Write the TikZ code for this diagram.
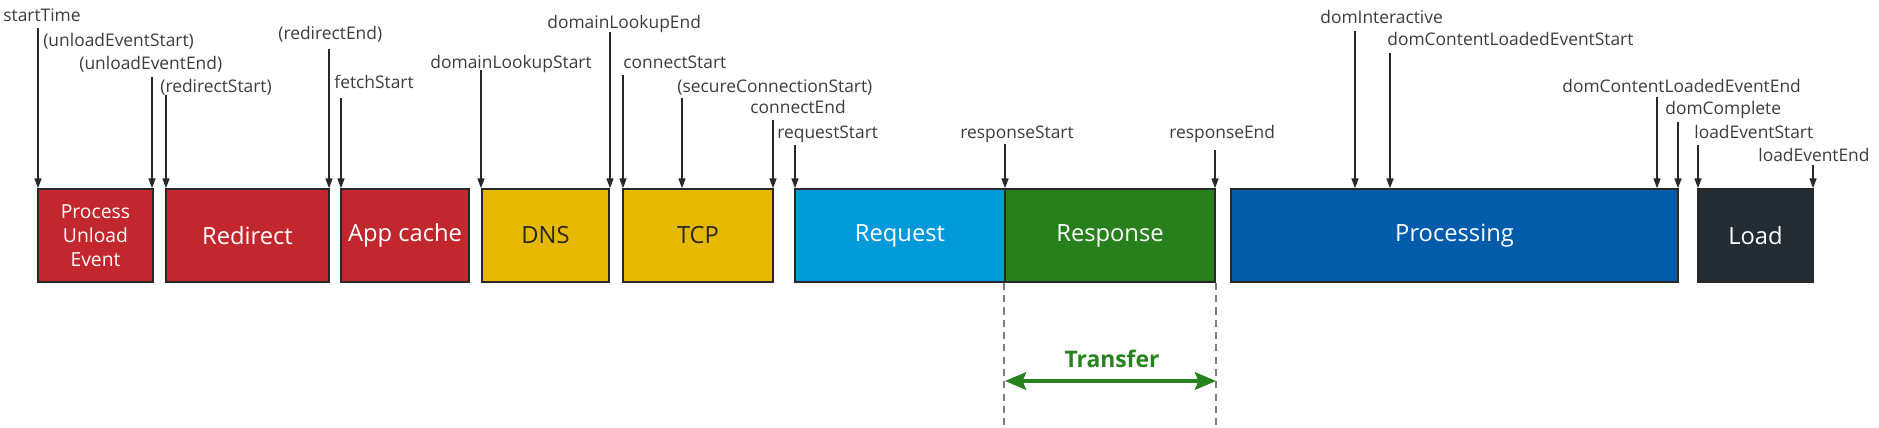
\documentclass[tikz,border=0pt]{standalone}
\usepackage{fontspec}
\setmainfont{Open Sans}
\usetikzlibrary{arrows.meta, positioning}

\definecolor{redbox}{RGB}{193,39,45}
\definecolor{yellowbox}{RGB}{230,184,0}
\definecolor{reqblue}{RGB}{0,153,218}
\definecolor{respgreen}{RGB}{40,128,28}
\definecolor{procblue}{RGB}{0,91,170}
\definecolor{loaddark}{RGB}{35,45,51}
\definecolor{labelgray}{RGB}{60,60,60}
\definecolor{edgegray}{RGB}{40,40,40}
\definecolor{dashgray}{RGB}{125,125,125}
\definecolor{transgreen}{RGB}{40,130,30}

\tikzset{
  box/.style={draw=edgegray, line width=1pt, minimum height=1.86cm, inner sep=0pt,
              text=white, font=\fontsize{13.5}{16}\selectfont},
  evlabel/.style={anchor=base west, inner sep=0pt, text=labelgray,
                  font=\fontsize{9.9}{11}\selectfont},
  ptr/.style={draw=edgegray, line width=0.7pt, -{Triangle[length=5.5pt, width=4pt]}},
  guide/.style={draw=dashgray, line width=0.8pt, dash pattern=on 4pt off 3pt},
}

\begin{document}
\begin{tikzpicture}[x=0.02cm, y=-0.02cm]
  \useasboundingbox (0,0) rectangle (1879,427);

  % phases
  \node[box, fill=redbox, minimum width=2.30cm, align=center,
        font=\fontsize{11}{13.6}\selectfont] (unload) at (95.5,235.5) {Process\\Unload\\Event};
  \node[box, fill=redbox, minimum width=3.26cm] (redirect) at (247.5,235.5) {Redirect};
  \node[box, fill=redbox, minimum width=2.56cm] (appcache) at (405,235.5) {App cache};
  \node[box, fill=yellowbox, minimum width=2.54cm, text=edgegray] (dns) at (545.5,235.5) {DNS};
  \node[box, fill=yellowbox, minimum width=3.00cm, text=edgegray] (tcp) at (698,235.5) {TCP};
  \node[box, fill=reqblue, minimum width=4.20cm] (request) at (900,235.5) {Request};
  \node[box, fill=respgreen, minimum width=4.20cm] (response) at (1110,235.5) {Response};
  \node[box, fill=procblue, minimum width=8.94cm] (processing) at (1454.5,235.5) {Processing};
  \node[box, fill=loaddark, minimum width=2.30cm] (load) at (1755.5,235.5) {Load};

  % timing marks
  \node[evlabel] (startTime) at (3,21) {startTime};
  \node[evlabel] (unloadEventStart) at (43,46) {(unloadEventStart)};
  \coordinate (startTime-p) at (38,28);
  \draw[ptr] (startTime-p) -- (startTime-p |- unload.north);

  \node[evlabel] (unloadEventEnd) at (79,69) {(unloadEventEnd)};
  \coordinate (unloadEventEnd-p) at (152,77);
  \draw[ptr] (unloadEventEnd-p) -- (unloadEventEnd-p |- unload.north);

  \node[evlabel] (redirectStart) at (160,92) {(redirectStart)};
  \coordinate (redirectStart-p) at (166,95);
  \draw[ptr] (redirectStart-p) -- (redirectStart-p |- redirect.north);

  \node[evlabel] (redirectEnd) at (278,39) {(redirectEnd)};
  \coordinate (redirectEnd-p) at (329,49);
  \draw[ptr] (redirectEnd-p) -- (redirectEnd-p |- redirect.north);

  \node[evlabel] (fetchStart) at (334,88) {fetchStart};
  \coordinate (fetchStart-p) at (341,98);
  \draw[ptr] (fetchStart-p) -- (fetchStart-p |- appcache.north);

  \node[evlabel, anchor=base east] (domainLookupStart) at (592,68) {domainLookupStart};
  \coordinate (domainLookupStart-p) at (481,70);
  \draw[ptr] (domainLookupStart-p) -- (domainLookupStart-p |- dns.north);

  \node[evlabel] (domainLookupEnd) at (547,28) {domainLookupEnd};
  \coordinate (domainLookupEnd-p) at (610,32);
  \draw[ptr] (domainLookupEnd-p) -- (domainLookupEnd-p |- dns.north);

  \node[evlabel] (connectStart) at (623,68) {connectStart};
  \coordinate (connectStart-p) at (623,75);
  \draw[ptr] (connectStart-p) -- (connectStart-p |- tcp.north);

  \node[evlabel] (secureConnectionStart) at (677,92) {(secureConnectionStart)};
  \coordinate (secureConnectionStart-p) at (682,98);
  \draw[ptr] (secureConnectionStart-p) -- (secureConnectionStart-p |- tcp.north);

  \node[evlabel] (connectEnd) at (750,113) {connectEnd};
  \coordinate (connectEnd-p) at (773,120);
  \draw[ptr] (connectEnd-p) -- (connectEnd-p |- tcp.north);

  \node[evlabel] (requestStart) at (777,138) {requestStart};
  \coordinate (requestStart-p) at (795,145);
  \draw[ptr] (requestStart-p) -- (requestStart-p |- request.north);

  \node[evlabel] (responseStart) at (960,138) {responseStart};
  \coordinate (responseStart-p) at (1005,144);
  \draw[ptr] (responseStart-p) -- (responseStart-p |- response.north);

  \node[evlabel] (responseEnd) at (1169,138) {responseEnd};
  \coordinate (responseEnd-p) at (1215,150);
  \draw[ptr] (responseEnd-p) -- (responseEnd-p |- response.north);

  \node[evlabel] (domInteractive) at (1320,23) {domInteractive};
  \coordinate (domInteractive-p) at (1355,31);
  \draw[ptr] (domInteractive-p) -- (domInteractive-p |- processing.north);

  \node[evlabel] (domContentLoadedEventStart) at (1387,45) {domContentLoadedEventStart};
  \coordinate (domContentLoadedEventStart-p) at (1390,53);
  \draw[ptr] (domContentLoadedEventStart-p) -- (domContentLoadedEventStart-p |- processing.north);

  \node[evlabel] (domContentLoadedEventEnd) at (1562,92) {domContentLoadedEventEnd};
  \coordinate (domContentLoadedEventEnd-p) at (1657,97);
  \draw[ptr] (domContentLoadedEventEnd-p) -- (domContentLoadedEventEnd-p |- processing.north);

  \node[evlabel] (domComplete) at (1665,114) {domComplete};
  \coordinate (domComplete-p) at (1678,122);
  \draw[ptr] (domComplete-p) -- (domComplete-p |- processing.north);

  \node[evlabel] (loadEventStart) at (1694,138) {loadEventStart};
  \coordinate (loadEventStart-p) at (1698,145);
  \draw[ptr] (loadEventStart-p) -- (loadEventStart-p |- load.north);

  \node[evlabel] (loadEventEnd) at (1758,161) {loadEventEnd};
  \coordinate (loadEventEnd-p) at (1813,165);
  \draw[ptr] (loadEventEnd-p) -- (loadEventEnd-p |- load.north);

  % transfer span
  \draw[guide] (response.south west) -- ++(0,145);
  \draw[guide] (response.south east) -- ++(0,145);
  \node[text=transgreen, font=\fontsize{13}{15}\bfseries] (transfer) at (1112,359) {Transfer};
  \coordinate (transfer-l) at (1005,381);
  \coordinate (transfer-r) at (1216,381);
  \draw[transgreen, line width=2pt, {Stealth[length=12pt, width=10pt, inset=2pt]}-{Stealth[length=12pt, width=10pt, inset=2pt]}]
    (transfer-l) -- (transfer-r);
\end{tikzpicture}
\end{document}
